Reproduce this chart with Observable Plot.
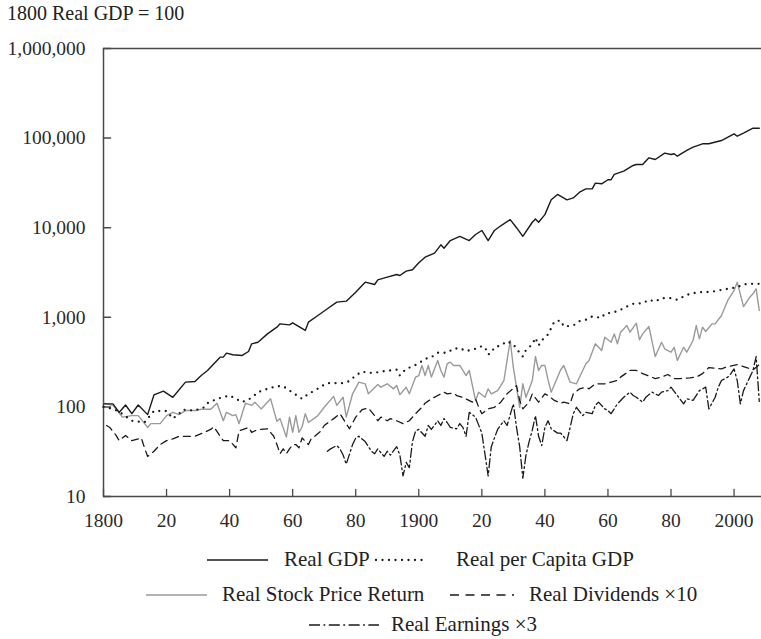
<!DOCTYPE html>
<html><head><meta charset="utf-8">
<script src="https://cdn.jsdelivr.net/npm/d3@7"></script>
<script src="https://cdn.jsdelivr.net/npm/@observablehq/plot@0.6"></script>
<style>
body{margin:0;background:#fff;}
#wrap{position:relative;width:761px;height:639px;overflow:hidden;font-family:"Liberation Serif",serif;color:#222;}
#chart{position:absolute;left:0;top:0;}
#chart text{font-weight:normal;}
.lbl{position:absolute;font-size:21px;line-height:24px;height:24px;white-space:nowrap;}
.sw{position:absolute;}
#title{position:absolute;left:7px;top:3px;font-size:20px;line-height:20px;white-space:nowrap;}
</style></head><body>
<div id="wrap">
<div id="chart"></div>
<div id="title">1800 Real GDP = 100</div>
<div id="legend"></div>
</div>
<script>
// ---- data ----
const gdpYears = [1800,1803,1805,1807,1809,1811,1814,1816,1819,1822,1826,1829,1831,1833,1836,1837,1838,1839,1841,1844,1846,1847,1849,1852,1855,1856,1859,1860,1864,1865,1868,1871,1874,1877,1880,1883,1886,1887,1890,1893,1894,1896,1898,1900,1902,1905,1907,1908,1910,1913,1916,1918,1920,1922,1924,1926,1929,1931,1933,1936,1937,1938,1940,1942,1944,1947,1949,1951,1953,1955,1956,1958,1960,1961,1962,1965,1968,1969,1971,1973,1975,1978,1980,1981,1982,1985,1987,1990,1992,1996,2000,2001,2003,2006,2008];
const gdpValues = [108,108,87,105,84,105,82,136,150,128,189,192,224,255,330,359,359,398,382,375,415,506,527,653,776,845,824,868,713,883,1047,1244,1476,1514,1906,2465,2323,2620,2803,3005,2930,3273,3390,4058,4690,5200,6440,5900,7190,7980,7190,8400,9310,7190,9310,10500,12300,10000,8000,11500,12500,11500,14000,20470,23500,20470,21500,24900,27100,27100,31400,30900,34300,34300,39300,42800,49500,50700,50700,60200,57700,67900,65700,66800,62800,72800,79300,86400,86400,94000,111600,105000,113500,128900,128900];

const pcYears = [1800,1803,1805,1809,1813,1816,1820,1822,1824,1825,1829,1832,1833,1836,1840,1844,1847,1849,1852,1855,1857,1859,1863,1865,1867,1869,1871,1876,1878,1880,1882,1884,1886,1888,1891,1893,1894,1896,1898,1900,1902,1904,1906,1909,1911,1913,1915,1918,1920,1921,1922,1923,1924,1926,1928,1930,1932,1933,1934,1936,1937,1938,1939,1941,1942,1943,1945,1946,1949,1951,1953,1955,1958,1959,1962,1964,1966,1968,1971,1973,1975,1977,1980,1982,1984,1986,1989,1991,1994,1996,1998,2001,2003,2005,2008];
const pcValues = [100,95,88,70,67,90,90,74,84,93,91,99,110,123,134,113,126,146,159,170,170,152,123,140,152,169,184,184,194,224,248,240,240,248,255,260,224,266,282,307,343,359,402,402,445,452,419,445,476,463,384,402,463,484,540,497,400,365,433,497,590,484,551,643,757,898,921,789,809,905,938,1020,987,1094,1140,1212,1318,1413,1436,1567,1500,1633,1633,1567,1706,1828,1906,1906,1954,2023,2078,2168,2323,2365,2365];

const stockYears = [1800,1803,1806,1809,1811,1814,1815,1818,1820,1822,1824,1826,1829,1831,1834,1836,1838,1839,1841,1842,1843,1845,1847,1848,1850,1853,1855,1856,1858,1859,1860,1861,1862,1863,1864,1865,1868,1870,1873,1874,1876,1877,1879,1881,1883,1884,1887,1888,1890,1892,1893,1894,1896,1897,1899,1900,1901,1902,1903,1904,1906,1907,1908,1909,1910,1911,1913,1914,1915,1916,1918,1919,1921,1922,1923,1925,1927,1928,1929,1930,1931,1932,1933,1934,1936,1937,1938,1939,1940,1941,1942,1945,1946,1948,1950,1953,1954,1956,1958,1959,1961,1962,1963,1964,1966,1967,1969,1970,1971,1973,1975,1977,1978,1980,1981,1982,1984,1985,1987,1988,1989,1990,1991,1993,1994,1996,1998,2000,2001,2003,2005,2006,2007,2008];
const stockValues = [110,104,77,80,80,59,65,65,80,87,82,91,91,94,94,110,70,87,80,82,65,110,104,113,95,123,69,74,46,77,52,80,52,60,84,67,80,99,131,104,128,77,140,189,181,140,178,166,181,159,173,137,166,140,215,224,290,224,290,215,330,255,215,303,316,290,290,255,224,255,118,146,128,159,140,152,197,330,551,275,166,99,181,128,197,365,255,290,290,200,146,260,290,189,181,303,330,506,426,600,527,653,506,682,809,682,859,561,653,789,365,527,445,408,463,330,463,408,551,809,575,776,694,845,845,1047,1541,1995,2465,1318,1675,1828,2078,1191];

const divYears = [1801,1802,1804,1805,1807,1809,1812,1813,1814,1816,1818,1820,1822,1824,1827,1829,1832,1834,1835,1837,1838,1840,1842,1843,1846,1847,1849,1852,1854,1855,1856,1857,1858,1859,1860,1861,1862,1863,1865,1866,1867,1869,1870,1873,1875,1877,1878,1880,1882,1884,1886,1887,1888,1890,1891,1893,1895,1897,1899,1901,1902,1904,1906,1908,1909,1911,1912,1914,1917,1918,1919,1920,1922,1924,1926,1928,1931,1932,1933,1935,1936,1938,1940,1941,1943,1945,1946,1948,1949,1951,1953,1954,1956,1959,1961,1963,1964,1967,1969,1971,1975,1977,1979,1981,1983,1986,1988,1990,1992,1996,1997,2001,2004,2006,2008];
const divValues = [62,59,48,42,48,42,45,35,28,32,38,42,44,47,47,47,52,56,60,47,42,42,35,54,59,52,56,57,47,38,30,34,30,34,38,38,35,45,38,45,47,54,62,74,84,65,57,77,93,97,80,70,77,70,74,70,65,70,84,99,110,123,134,146,140,143,134,128,113,123,99,84,95,99,113,140,173,118,95,113,140,113,140,134,118,110,113,108,140,159,166,159,181,181,189,197,215,255,255,235,207,215,230,207,207,211,215,235,275,265,275,297,275,259,297];

const earnYears = [1871,1872,1874,1875,1876,1877,1879,1880,1881,1883,1885,1886,1887,1889,1890,1891,1893,1894,1895,1896,1897,1898,1899,1900,1902,1903,1904,1906,1907,1908,1909,1910,1912,1913,1914,1915,1916,1918,1920,1922,1923,1924,1925,1927,1928,1930,1931,1932,1933,1934,1935,1936,1937,1938,1939,1940,1941,1942,1944,1945,1947,1948,1949,1950,1952,1953,1955,1956,1957,1959,1960,1961,1963,1965,1967,1968,1969,1971,1972,1974,1976,1977,1979,1980,1982,1984,1985,1987,1989,1991,1992,1994,1995,1996,1998,1999,2000,2001,2002,2003,2005,2006,2007,2008];
const earnValues = [32,34,37,34,29,23,38,45,47,41,32,30,34,28,32,29,36,29,17,24,21,41,54,56,47,62,56,70,62,74,67,59,57,65,59,47,87,77,51,17,36,45,56,70,62,108,59,36,16,29,41,55,80,47,37,59,70,57,51,51,42,59,84,99,80,87,84,104,113,95,91,84,108,128,146,134,128,113,128,146,134,146,152,166,134,108,123,118,152,166,95,128,166,197,215,235,265,197,108,152,215,255,365,115];

const yTicks = [10,100,1000,10000,100000,1000000];
const xTicks = [1800,1820,1840,1860,1880,1900,1920,1940,1960,1980,2000];

// ---- build tables ----
const toRows = (xs, vs) => xs.map((x, i) => ({year: x, value: vs[i]}));
const gdp = toRows(gdpYears, gdpValues);
const perCapita = toRows(pcYears, pcValues);
const stock = toRows(stockYears, stockValues);
const dividends = toRows(divYears, divValues);
const earnings = toRows(earnYears, earnValues);

const axisColor = "#4a4a4a";
const ink = "#1a1a1a";
const tickShape = {draw(ctx, l) { ctx.moveTo(0, 0); ctx.lineTo(0, -l); }};

const chart = Plot.plot({
  width: 761,
  height: 545,
  marginTop: 48,
  marginBottom: 49,
  marginLeft: 103,
  marginRight: 0,
  style: {fontFamily: "'Liberation Serif', serif", fontSize: "19.5px", color: "#333", background: "transparent"},
  x: {domain: [1800, 2008.7]},
  y: {type: "log", domain: [10, 1e6]},
  marks: [
    Plot.ruleY([1e6], {stroke: axisColor, strokeWidth: 1.5}),
    Plot.ruleY([10], {stroke: axisColor, strokeWidth: 1.5}),
    Plot.ruleX([1800], {stroke: axisColor, strokeWidth: 1.5}),
    Plot.vector(yTicks, {y: d => d, frameAnchor: "left", length: 7, rotate: 90, anchor: "start", shape: tickShape, stroke: axisColor, strokeWidth: 1.5}),
    Plot.vector(xTicks, {x: d => d, frameAnchor: "bottom", length: 7, rotate: 0, anchor: "start", shape: tickShape, stroke: axisColor, strokeWidth: 1.3}),
    Plot.axisY({ticks: yTicks, tickFormat: d3.format(","), tickSize: 0, tickPadding: 18, fill: "#2a2a2a", label: null}),
    Plot.axisX({ticks: xTicks, tickFormat: d => d % 100 === 0 ? String(d) : String(d % 100), tickSize: 0, tickPadding: 17, fill: "#2a2a2a", label: null}),
    Plot.line(stock, {x: "year", y: "value", stroke: "#9a9a9a", strokeWidth: 1.4}),
    Plot.line(perCapita, {x: "year", y: "value", stroke: ink, strokeWidth: 2.3, strokeDasharray: "0,6.5", strokeLinecap: "round"}),
    Plot.line(dividends, {x: "year", y: "value", stroke: ink, strokeWidth: 1.3, strokeDasharray: "7,5"}),
    Plot.line(earnings, {x: "year", y: "value", stroke: ink, strokeWidth: 1.3, strokeDasharray: "9,3,1.8,3"}),
    Plot.line(gdp, {x: "year", y: "value", stroke: ink, strokeWidth: 1.4})
  ]
});
document.getElementById("chart").appendChild(chart);

// ---- legend ----
const legendItems = [
  {label: "Real GDP", x1: 207, x2: 268, tx: 284, cy: 560, stroke: ink, dash: null, w: 1.4, cap: "butt"},
  {label: "Real per Capita GDP", x1: 376, x2: 425, tx: 456, cy: 560, stroke: ink, dash: "0,6.5", w: 2.3, cap: "round"},
  {label: "Real Stock Price Return", x1: 146, x2: 207, tx: 222, cy: 595, stroke: "#9a9a9a", dash: null, w: 1.4, cap: "butt"},
  {label: "Real Dividends \u00d710", x1: 450, x2: 514, tx: 529, cy: 595, stroke: ink, dash: "9,6.5", w: 1.3, cap: "butt"},
  {label: "Real Earnings \u00d73", x1: 309, x2: 379, tx: 391, cy: 625, stroke: ink, dash: "11,3.5,1.8,3.5", w: 1.3, cap: "butt"}
];
const legend = document.getElementById("legend");
for (const it of legendItems) {
  const svgNS = "http://www.w3.org/2000/svg";
  const s = document.createElementNS(svgNS, "svg");
  s.setAttribute("class", "sw");
  s.setAttribute("width", it.x2 - it.x1 + 4);
  s.setAttribute("height", 6);
  s.style.left = (it.x1 - 2) + "px";
  s.style.top = (it.cy - 3) + "px";
  const l = document.createElementNS(svgNS, "line");
  l.setAttribute("x1", 2); l.setAttribute("x2", it.x2 - it.x1 + 2);
  l.setAttribute("y1", 3); l.setAttribute("y2", 3);
  l.setAttribute("stroke", it.stroke);
  l.setAttribute("stroke-width", it.w);
  l.setAttribute("stroke-linecap", it.cap);
  if (it.dash) l.setAttribute("stroke-dasharray", it.dash);
  s.appendChild(l);
  legend.appendChild(s);
  const d = document.createElement("div");
  d.className = "lbl";
  d.textContent = it.label;
  d.style.left = it.tx + "px";
  d.style.top = (it.cy - 13) + "px";
  legend.appendChild(d);
}
</script>
</body></html>
